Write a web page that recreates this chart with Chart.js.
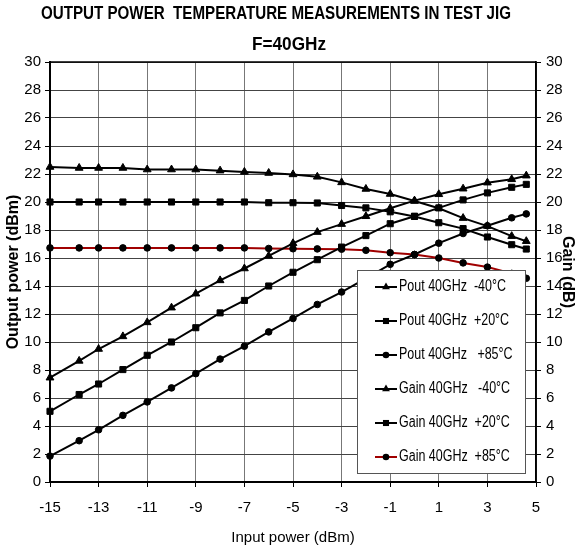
<!DOCTYPE html>
<html><head><meta charset="utf-8">
<script src="https://cdn.jsdelivr.net/npm/chart.js@4.4.1/dist/chart.umd.min.js"></script>
<style>html,body{margin:0;padding:0;background:#fff}#wrap{width:582px;height:551px}</style>
</head><body><div id="wrap"><canvas id="c" width="582" height="551"></canvas></div>
<script>
const titleLines = ['OUTPUT POWER  TEMPERATURE MEASUREMENTS IN TEST JIG', 'F=40GHz'];
const xTitle = 'Input power (dBm)';
const yTitle = 'Output power (dBm)';
const y2Title = 'Gain (dB)';

const inputPower = [-15, -13.8, -13, -12, -11, -10, -9, -8, -7, -6, -5, -4, -3, -2, -1, 0, 1, 2, 3, 4, 4.6];

const seriesLabels = ['Pout 40GHz  -40°C', 'Pout 40GHz  +20°C', 'Pout 40GHz   +85°C',
                      'Gain 40GHz   -40°C', 'Gain 40GHz  +20°C', 'Gain 40GHz  +85°C'];

const poutM40 = [7.45, 8.65, 9.5, 10.4, 11.4, 12.45, 13.45, 14.4, 15.25, 16.15, 17.05, 17.85, 18.42, 18.98, 19.55, 20.1, 20.55, 20.95, 21.38, 21.62, 21.88];
const poutP20 = [5.05, 6.25, 7.0, 8.03, 9.05, 10.0, 11.02, 12.08, 12.97, 14.0, 14.98, 15.88, 16.78, 17.6, 18.45, 18.98, 19.58, 20.15, 20.65, 21.05, 21.26];
const poutP85 = [1.85, 2.95, 3.73, 4.76, 5.72, 6.72, 7.74, 8.78, 9.7, 10.72, 11.68, 12.68, 13.57, 14.55, 15.55, 16.25, 17.06, 17.75, 18.3, 18.87, 19.15];
const gainM40 = [22.5, 22.43, 22.43, 22.43, 22.32, 22.32, 22.32, 22.24, 22.15, 22.07, 21.97, 21.8, 21.4, 20.93, 20.57, 20.07, 19.55, 18.85, 18.28, 17.56, 17.2];
const gainP20 = [20.0, 20.0, 20.0, 20.0, 20.0, 20.0, 20.0, 20.0, 20.0, 19.95, 19.95, 19.93, 19.75, 19.58, 19.3, 18.97, 18.52, 18.1, 17.5, 16.95, 16.64];
const gainP85 = [16.72, 16.72, 16.72, 16.72, 16.72, 16.72, 16.72, 16.72, 16.72, 16.68, 16.66, 16.65, 16.63, 16.55, 16.38, 16.25, 16.0, 15.65, 15.35, 14.9, 14.55];

const xTicksMin = -15, xTicksMax = 5, xStep = 2;
const yMin = 0, yMax = 30, yStep = 2;

const FONT = "'Liberation Sans', Arial, sans-serif";

function pts(ys) { return inputPower.map((x, i) => ({x: x, y: ys[i]})); }

function ds(label, ys, style, axis, color, radius) {
  return {
    label: label, data: pts(ys), yAxisID: axis, showLine: true,
    borderColor: color, borderWidth: 2, backgroundColor: '#000',
    pointStyle: style, pointRadius: radius, pointHoverRadius: radius,
    pointBackgroundColor: '#000', pointBorderColor: '#000', pointBorderWidth: 1,
    tension: 0, clip: false
  };
}

const datasets = [
  ds(seriesLabels[0], poutM40, 'triangle', 'y', '#000', 4.5),
  ds(seriesLabels[1], poutP20, 'rect', 'y', '#000', 4.3),
  ds(seriesLabels[2], poutP85, 'circle', 'y', '#000', 3.3),
  ds(seriesLabels[3], gainM40, 'triangle', 'y2', '#000', 4.5),
  ds(seriesLabels[4], gainP20, 'rect', 'y2', '#000', 4.3),
  ds(seriesLabels[5], gainP85, 'circle', 'y2', '#a00000', 3.3)
];

function drawMarker(ctx, style, x, y, r) {
  ctx.beginPath();
  if (style === 'triangle') {
    ctx.moveTo(x, y - r);
    ctx.lineTo(x + r * 0.866, y + r * 0.5);
    ctx.lineTo(x - r * 0.866, y + r * 0.5);
    ctx.closePath();
  } else if (style === 'rect') {
    const s = r * Math.SQRT1_2;
    ctx.rect(x - s, y - s, 2 * s, 2 * s);
  } else {
    ctx.arc(x, y, r, 0, Math.PI * 2);
  }
  ctx.fillStyle = '#000';
  ctx.fill();
}

function squeezedText(ctx, text, x, y, sx, align) {
  ctx.save();
  ctx.translate(x, y);
  ctx.scale(sx, 1);
  ctx.textAlign = align;
  ctx.fillText(text, 0, 0);
  ctx.restore();
}

function fitText(ctx, text, cx, cy, width) {
  const w = ctx.measureText(text).width;
  squeezedText(ctx, text, cx, cy, width / w, 'center');
}

const framePlugin = {
  id: 'frame',
  beforeDatasetsDraw(chart) {
    const {ctx, chartArea: a} = chart;
    ctx.save();
    ctx.strokeStyle = '#000';
    ctx.lineWidth = 1.5;
    ctx.strokeRect(a.left, a.top, a.right - a.left, a.bottom - a.top);
    ctx.restore();
  },
  afterDraw(chart) {
    const ctx = chart.ctx;
    ctx.save();
    ctx.fillStyle = '#000';
    ctx.textBaseline = 'middle';
    ctx.font = "bold 19px " + FONT;
    fitText(ctx, titleLines[0], 276, 14, 470);
    fitText(ctx, titleLines[1], 289, 45, 74);
    // legend
    const lx = 357, ly = 270, lw = 168, lh = 203;
    ctx.fillStyle = '#fff';
    ctx.fillRect(lx, ly, lw, lh);
    ctx.strokeStyle = '#555';
    ctx.lineWidth = 1;
    ctx.strokeRect(lx + 0.5, ly + 0.5, lw, lh);
    ctx.font = "16px " + FONT;
    chart.data.datasets.forEach((d, i) => {
      const cy = 287 + i * 34;
      ctx.strokeStyle = d.borderColor;
      ctx.lineWidth = 2;
      ctx.beginPath();
      ctx.moveTo(375, cy);
      ctx.lineTo(397, cy);
      ctx.stroke();
      drawMarker(ctx, d.pointStyle, 386, cy, d.pointRadius);
      ctx.fillStyle = '#000';
      squeezedText(ctx, d.label, 399, cy, 0.78, 'left');
    });
    ctx.restore();
  }
};

new Chart(document.getElementById('c'), {
  type: 'scatter',
  data: { datasets: datasets },
  plugins: [framePlugin],
  options: {
    responsive: false,
    devicePixelRatio: 1,
    animation: false,
    layout: { padding: { top: 62, left: 0, right: 0, bottom: 0 } },
    plugins: { legend: { display: false }, title: { display: false }, tooltip: { enabled: false } },
    scales: {
      x: {
        type: 'linear', min: xTicksMin, max: xTicksMax,
        ticks: { stepSize: xStep, color: '#000', font: { family: FONT, size: 15 }, padding: 12, maxRotation: 0 },
        grid: { color: '#777', lineWidth: 1, tickLength: 5, tickColor: '#000' },
        border: { color: '#000', width: 2 },
        title: { display: true, text: xTitle, color: '#000', font: { family: FONT, size: 15 }, padding: { top: 4, bottom: 4 } },
        afterFit(s) { s.height = 69; }
      },
      y: {
        type: 'linear', position: 'left', min: yMin, max: yMax,
        ticks: { stepSize: yStep, color: '#000', font: { family: FONT, size: 15 }, padding: 4 },
        grid: { color: '#444', lineWidth: 1, tickLength: 5, tickColor: '#000' },
        border: { color: '#000', width: 2 },
        title: { display: true, text: yTitle, color: '#000', font: { family: FONT, size: 16, weight: 'bold' }, padding: { top: 4, bottom: 0 } },
        afterFit(s) { s.width = 50; }
      },
      y2: {
        type: 'linear', position: 'right', min: yMin, max: yMax,
        ticks: { stepSize: yStep, color: '#000', font: { family: FONT, size: 15 }, padding: 5 },
        grid: { drawOnChartArea: false, tickLength: 5, color: '#000' },
        border: { color: '#000', width: 1.5 },
        title: { display: true, text: y2Title, color: '#000', font: { family: FONT, size: 16, weight: 'bold' }, padding: { top: 5, bottom: 0 } },
        afterFit(s) { s.width = 46; }
      }
    }
  }
});
</script>
</body></html>
